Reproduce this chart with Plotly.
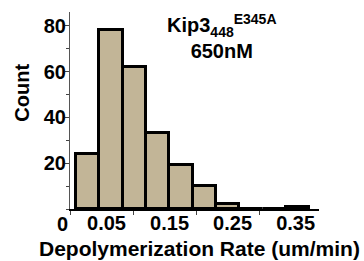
import plotly.graph_objects as go

# Data
bin_start = 0.0095
bin_width = 0.037
counts = [24, 78, 62, 33, 19, 10, 2, 0, 0, 1]
bin_centers = [bin_start + bin_width * (i + 0.5) for i in range(len(counts))]

x_tick_vals = [0.05, 0.15, 0.25, 0.35]
x_tick_text = ["0.05", "0.15", "0.25", "0.35"]
x_minor_vals = [0, 0.1, 0.2, 0.3]
y_tick_vals = [20, 40, 60, 80]

FONT = "Liberation Sans, Arial, sans-serif"
BAR_COLOR = "#C2B597"

fig = go.Figure()
fig.add_trace(go.Bar(
    x=bin_centers, y=counts, width=bin_width,
    marker=dict(color=BAR_COLOR, line=dict(color="black", width=3)),
))

fig.update_layout(
    width=364, height=261,
    margin=dict(l=70, r=45, t=12, b=52),
    paper_bgcolor="white", plot_bgcolor="white",
    showlegend=False, bargap=0,
    font=dict(family=FONT, size=18, color="black"),
)
fig.update_xaxes(
    range=[0, 0.395], showgrid=False, zeroline=False, automargin=False,
    showline=True, linecolor="black", linewidth=2,
    tickmode="array", tickvals=x_tick_vals, ticktext=x_tick_text,
    ticks="", ticklabelshift=5, ticklabelstandoff=-5,
    tickfont=dict(family=FONT, size=20, color="black", weight="bold"),
    minor=dict(tickmode="array", tickvals=x_minor_vals, ticks="outside",
               ticklen=4, tickwidth=1, tickcolor="#444"),
)
fig.update_yaxes(
    range=[0, 86], showgrid=False, zeroline=False, automargin=False,
    showline=True, linecolor="#555", linewidth=1,
    tickmode="array", tickvals=y_tick_vals,
    ticks="outside", ticklen=4, tickwidth=1, tickcolor="#444",
    ticklabelstandoff=-5,
    tickfont=dict(family=FONT, size=20, color="black", weight="bold"),
    minor=dict(dtick=10, ticks="outside", ticklen=3, tickwidth=1, tickcolor="#444"),
)

# "0" label at the origin
fig.add_annotation(x=0, y=0, xref="x", yref="y", text="0", showarrow=False,
                   xanchor="center", yanchor="top", xshift=-8, yshift=-2,
                   font=dict(family=FONT, size=20, color="black", weight="bold"))
# Axis titles
fig.add_annotation(x=-0.193, y=0.59, xref="paper", yref="paper", text="Count",
                   textangle=-90, showarrow=False, xanchor="center", yanchor="middle",
                   font=dict(family=FONT, size=20, color="black", weight="bold"))
fig.add_annotation(x=0.521, y=-0.20, xref="paper", yref="paper",
                   text="Depolymerization Rate (um/min)", showarrow=False,
                   xanchor="center", yanchor="middle",
                   font=dict(family=FONT, size=21, color="black", weight="bold"))
# Label
fig.add_annotation(x=0.612, y=0.875, xref="paper", yref="paper",
                   text="Kip3<sub>448</sub><sup>E345A</sup><br>650nM",
                   showarrow=False, xanchor="center", yanchor="middle", align="center",
                   font=dict(family=FONT, size=20, color="black", weight="bold"))

fig.write_html("out.html", config={"displayModeBar": False},
               post_script="document.body.style.margin='0';")
